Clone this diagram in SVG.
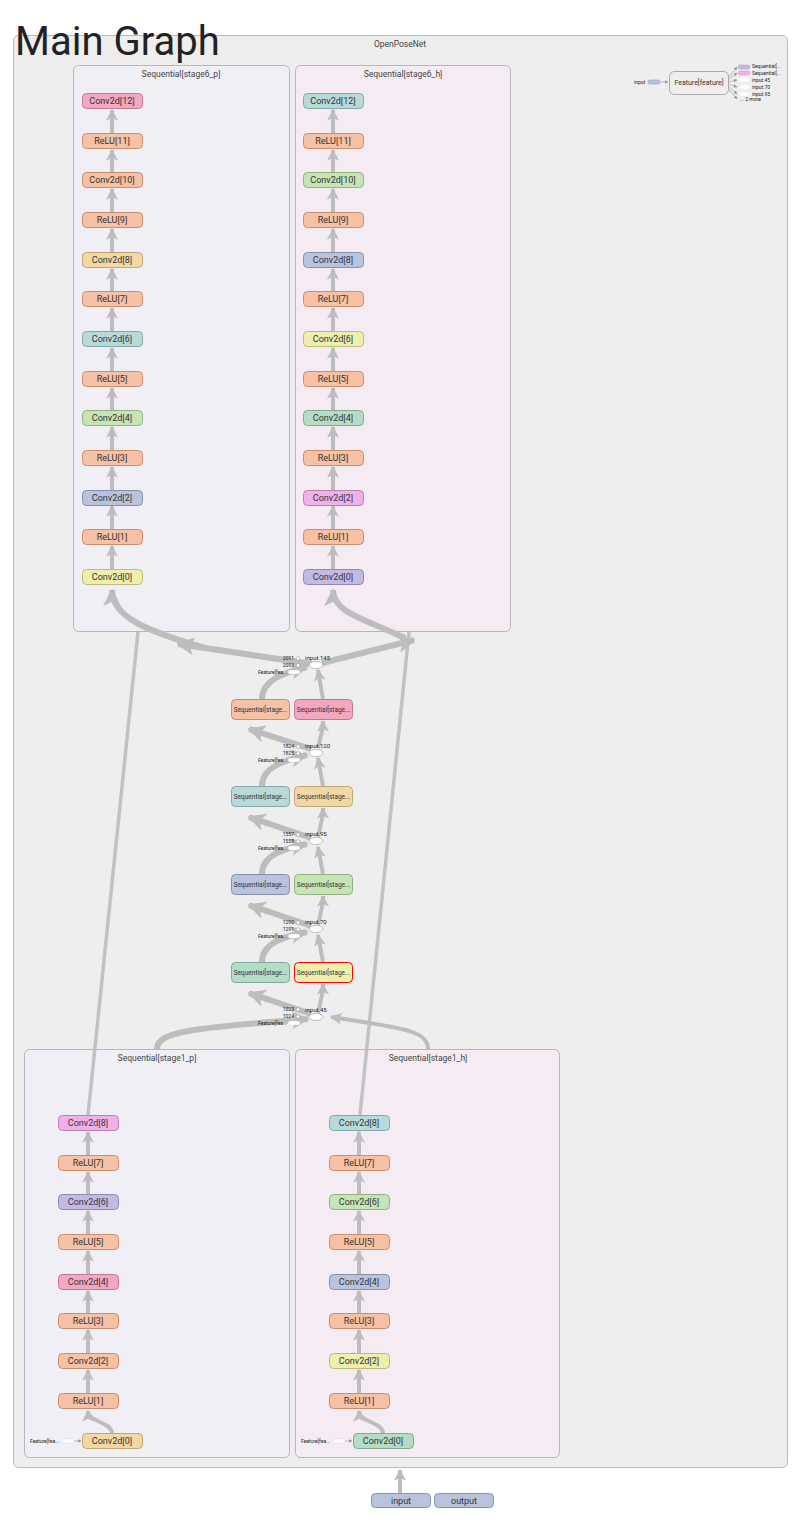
<svg xmlns="http://www.w3.org/2000/svg" width="811" height="1534" viewBox="0 0 811 1534">
<style>
text{font-family:Roboto,"Liberation Sans",sans-serif;fill:#333}
.t{font-size:9px;text-anchor:middle}
.gt{font-size:8.5px;text-anchor:middle;fill:#444}
.s{font-size:6.5px;text-anchor:middle}
.xs{font-size:5px;fill:#222}
.n rect{stroke-width:1}
.e{fill:none;stroke:#bdbdbd;stroke-width:4;marker-end:url(#a)}
.ew{fill:none;stroke:#bdbdbd;stroke-width:6;marker-end:url(#a)}
.el{fill:none;stroke:#c2c2c2;stroke-width:3.5}
.pk{fill:#f4a7c0;stroke:#c27990}
.sa{fill:#f6c1a4;stroke:#c98f6f}
.tn{fill:#f2d8a5;stroke:#c3a672}
.tl{fill:#b9dada;stroke:#86a8a8}
.gr{fill:#c7e4b5;stroke:#93b281}
.bg{fill:#b9c3dd;stroke:#8591ad}
.ye{fill:#eeeead;stroke:#bbbb7b}
.gt2{fill:#b5dcc7;stroke:#83a995}
.mg{fill:#efb1e8;stroke:#bc80b5}
.pu{fill:#c4b9e3;stroke:#9388b3}
.sm{fill:#fff;stroke:#999;stroke-width:0.6}
</style>
<defs>
<marker id="a" viewBox="0 0 10 10" refX="9" refY="5" markerWidth="3" markerHeight="3" orient="auto" markerUnits="strokeWidth">
<path d="M0,0 L10,5 L0,10 L2.5,5 z" fill="#bdbdbd"/>
</marker>
<marker id="s" viewBox="0 0 10 10" refX="9" refY="5" markerWidth="6" markerHeight="6" orient="auto" markerUnits="strokeWidth">
<path d="M0,0 L10,5 L0,10 z" fill="#999"/>
</marker>
</defs>
<rect width="811" height="1534" fill="#fff"/>
<g id="main">
<rect x="13.5" y="35.5" width="774" height="1432" rx="5" fill="#eee" stroke="#bbb"/>
<text x="400" y="47" class="gt">OpenPoseNet</text>
</g>
<text x="15" y="55" font-size="40" style="fill:#222">Main Graph</text>

<g id="stage6_p">
<rect x="73.5" y="65.5" width="216" height="566" rx="5" fill="#f0eff5" stroke="#b8b4bb"/>
<text x="181" y="77" class="gt">Sequential[stage6_p]</text>
</g>
<g id="stage6_h">
<rect x="295.5" y="65.5" width="215" height="566" rx="5" fill="#f5ecf3" stroke="#b8b4bb"/>
<text x="403" y="77" class="gt">Sequential[stage6_h]</text>
</g>
<g id="stage1_p">
<rect x="24.5" y="1049.5" width="265" height="408" rx="5" fill="#f0eff5" stroke="#b8b4bb"/>
<text x="157" y="1061" class="gt">Sequential[stage1_p]</text>
</g>
<g id="stage1_h">
<rect x="295.5" y="1049.5" width="264" height="408" rx="5" fill="#f5ecf3" stroke="#b8b4bb"/>
<text x="428" y="1061" class="gt">Sequential[stage1_h]</text>
</g>

<g id="connectors">
<!-- stage6_p chain -->
<path class="e" d="M112,569.5V546"/><path class="e" d="M112,529.5V506"/><path class="e" d="M112,490.5V467"/><path class="e" d="M112,450.5V427"/><path class="e" d="M112,410.5V388"/><path class="e" d="M112,371.5V348"/><path class="e" d="M112,331.5V308"/><path class="e" d="M112,291.5V269"/><path class="e" d="M112,252.5V229"/><path class="e" d="M112,212.5V189"/><path class="e" d="M112,172.5V150"/><path class="e" d="M112,133.5V110"/>
<!-- stage6_h chain -->
<path class="e" d="M333,569.5V546"/><path class="e" d="M333,529.5V506"/><path class="e" d="M333,490.5V467"/><path class="e" d="M333,450.5V427"/><path class="e" d="M333,410.5V388"/><path class="e" d="M333,371.5V348"/><path class="e" d="M333,331.5V308"/><path class="e" d="M333,291.5V269"/><path class="e" d="M333,252.5V229"/><path class="e" d="M333,212.5V189"/><path class="e" d="M333,172.5V150"/><path class="e" d="M333,133.5V110"/>
<!-- stage1_p chain -->
<path class="e" d="M112,1433.5C112,1422 88,1422 88,1411"/>
<path class="e" d="M88,1393.5V1370"/><path class="e" d="M88,1353.5V1330"/><path class="e" d="M88,1313.5V1291"/><path class="e" d="M88,1274.5V1251"/><path class="e" d="M88,1234.5V1211"/><path class="e" d="M88,1194.5V1172"/><path class="e" d="M88,1155.5V1132"/>
<!-- stage1_h chain -->
<path class="e" d="M383,1433.5C383,1422 359,1422 359,1411"/>
<path class="e" d="M359,1393.5V1370"/><path class="e" d="M359,1353.5V1330"/><path class="e" d="M359,1313.5V1291"/><path class="e" d="M359,1274.5V1251"/><path class="e" d="M359,1234.5V1211"/><path class="e" d="M359,1194.5V1172"/><path class="e" d="M359,1155.5V1132"/>
<!-- long lines -->
<path class="el" d="M138,632 L88,1115"/>
<path class="el" d="M409,632 L360,1115"/>
<!-- input.145 to stage6 -->
<path class="ew" d="M312,664 L178,644"/>
<path class="ew" d="M205,648 C150,632 112,618 112,590"/>
<path class="ew" d="M322,663 L414,640"/>
<path class="ew" d="M405,638 C362,618 333,612 333,590"/>
<!-- center levels -->
<path class="ew" d="M262,699 C262,680 285,672 307,667"/>
<path class="e" d="M323,699 L318,670"/>
<path class="ew" d="M311,749 L249,729"/>
<path class="e" d="M318,748 C320,738 323,732 323,721"/>
<path class="ew" d="M262,786 C262,767 285,760 307,755"/>
<path class="e" d="M323,786 L318,758"/>
<path class="ew" d="M311,838 L249,817"/>
<path class="e" d="M318,837 C320,827 323,820 323,808"/>
<path class="ew" d="M262,874 C262,855 285,848 307,844"/>
<path class="e" d="M323,874 L318,847"/>
<path class="ew" d="M311,926 L249,905"/>
<path class="e" d="M318,925 C320,915 323,908 323,896"/>
<path class="ew" d="M262,962 C262,943 285,936 307,932"/>
<path class="e" d="M323,962 L318,935"/>
<path class="ew" d="M311,1014 L249,993"/>
<path class="e" d="M318,1013 C320,1003 323,996 323,984"/>
<!-- stage1 to input.45 -->
<path class="ew" d="M157,1049 C157,1032 190,1028 308,1019"/>
<path class="e" d="M428,1049 C428,1030 400,1028 331,1017"/>
<!-- input to main -->
<path class="e" d="M400,1493 V1470"/>
<!-- feature arrows in stage1 -->
<path d="M74,1441 H81" stroke="#999" stroke-width="0.6" marker-end="url(#s)"/>
<path d="M345,1441 H352" stroke="#999" stroke-width="0.6" marker-end="url(#s)"/>
<!-- top right -->
<path d="M660,82 H668" stroke="#999" stroke-width="0.6" marker-end="url(#s)"/>
<path d="M728,78 L737,67" stroke="#999" stroke-width="0.6" marker-end="url(#s)"/>
<path d="M728,80 L737,73" stroke="#999" stroke-width="0.6" marker-end="url(#s)"/>
<path d="M728,82 L737,80" stroke="#999" stroke-width="0.6" marker-end="url(#s)"/>
<path d="M728,84 L737,87" stroke="#999" stroke-width="0.6" marker-end="url(#s)"/>
<path d="M728,86 L737,94" stroke="#999" stroke-width="0.6" marker-end="url(#s)"/>
<path d="M728,88 L737,99" stroke="#999" stroke-width="0.6" marker-end="url(#s)"/>
</g>

<!-- stage6_p nodes -->
<g id="s6p_conv12" class="n"><rect class="pk" x="82.5" y="93.5" width="60" height="15" rx="4"/><text class="t" x="112" y="104">Conv2d[12]</text></g>
<g id="s6p_relu11" class="n"><rect class="sa" x="82.5" y="133.5" width="60" height="15" rx="4"/><text class="t" x="112" y="144">ReLU[11]</text></g>
<g id="s6p_conv10" class="n"><rect class="sa" x="82.5" y="172.5" width="60" height="15" rx="4"/><text class="t" x="112" y="183">Conv2d[10]</text></g>
<g id="s6p_relu9" class="n"><rect class="sa" x="82.5" y="212.5" width="60" height="15" rx="4"/><text class="t" x="112" y="223">ReLU[9]</text></g>
<g id="s6p_conv8" class="n"><rect class="tn" x="82.5" y="252.5" width="60" height="15" rx="4"/><text class="t" x="112" y="263">Conv2d[8]</text></g>
<g id="s6p_relu7" class="n"><rect class="sa" x="82.5" y="291.5" width="60" height="15" rx="4"/><text class="t" x="112" y="302">ReLU[7]</text></g>
<g id="s6p_conv6" class="n"><rect class="tl" x="82.5" y="331.5" width="60" height="15" rx="4"/><text class="t" x="112" y="342">Conv2d[6]</text></g>
<g id="s6p_relu5" class="n"><rect class="sa" x="82.5" y="371.5" width="60" height="15" rx="4"/><text class="t" x="112" y="382">ReLU[5]</text></g>
<g id="s6p_conv4" class="n"><rect class="gr" x="82.5" y="410.5" width="60" height="15" rx="4"/><text class="t" x="112" y="421">Conv2d[4]</text></g>
<g id="s6p_relu3" class="n"><rect class="sa" x="82.5" y="450.5" width="60" height="15" rx="4"/><text class="t" x="112" y="461">ReLU[3]</text></g>
<g id="s6p_conv2" class="n"><rect class="bg" x="82.5" y="490.5" width="60" height="15" rx="4"/><text class="t" x="112" y="501">Conv2d[2]</text></g>
<g id="s6p_relu1" class="n"><rect class="sa" x="82.5" y="529.5" width="60" height="15" rx="4"/><text class="t" x="112" y="540">ReLU[1]</text></g>
<g id="s6p_conv0" class="n"><rect class="ye" x="82.5" y="569.5" width="60" height="15" rx="4"/><text class="t" x="112" y="580">Conv2d[0]</text></g>

<!-- stage6_h nodes -->
<g id="s6h_conv12" class="n"><rect class="tl" x="303.5" y="93.5" width="60" height="15" rx="4"/><text class="t" x="333" y="104">Conv2d[12]</text></g>
<g id="s6h_relu11" class="n"><rect class="sa" x="303.5" y="133.5" width="60" height="15" rx="4"/><text class="t" x="333" y="144">ReLU[11]</text></g>
<g id="s6h_conv10" class="n"><rect class="gr" x="303.5" y="172.5" width="60" height="15" rx="4"/><text class="t" x="333" y="183">Conv2d[10]</text></g>
<g id="s6h_relu9" class="n"><rect class="sa" x="303.5" y="212.5" width="60" height="15" rx="4"/><text class="t" x="333" y="223">ReLU[9]</text></g>
<g id="s6h_conv8" class="n"><rect class="bg" x="303.5" y="252.5" width="60" height="15" rx="4"/><text class="t" x="333" y="263">Conv2d[8]</text></g>
<g id="s6h_relu7" class="n"><rect class="sa" x="303.5" y="291.5" width="60" height="15" rx="4"/><text class="t" x="333" y="302">ReLU[7]</text></g>
<g id="s6h_conv6" class="n"><rect class="ye" x="303.5" y="331.5" width="60" height="15" rx="4"/><text class="t" x="333" y="342">Conv2d[6]</text></g>
<g id="s6h_relu5" class="n"><rect class="sa" x="303.5" y="371.5" width="60" height="15" rx="4"/><text class="t" x="333" y="382">ReLU[5]</text></g>
<g id="s6h_conv4" class="n"><rect class="gt2" x="303.5" y="410.5" width="60" height="15" rx="4"/><text class="t" x="333" y="421">Conv2d[4]</text></g>
<g id="s6h_relu3" class="n"><rect class="sa" x="303.5" y="450.5" width="60" height="15" rx="4"/><text class="t" x="333" y="461">ReLU[3]</text></g>
<g id="s6h_conv2" class="n"><rect class="mg" x="303.5" y="490.5" width="60" height="15" rx="4"/><text class="t" x="333" y="501">Conv2d[2]</text></g>
<g id="s6h_relu1" class="n"><rect class="sa" x="303.5" y="529.5" width="60" height="15" rx="4"/><text class="t" x="333" y="540">ReLU[1]</text></g>
<g id="s6h_conv0" class="n"><rect class="pu" x="303.5" y="569.5" width="60" height="15" rx="4"/><text class="t" x="333" y="580">Conv2d[0]</text></g>

<!-- stage1_p nodes -->
<g id="s1p_conv8" class="n"><rect class="mg" x="58.5" y="1115.5" width="60" height="15" rx="4"/><text class="t" x="88" y="1126">Conv2d[8]</text></g>
<g id="s1p_relu7" class="n"><rect class="sa" x="58.5" y="1155.5" width="60" height="15" rx="4"/><text class="t" x="88" y="1166">ReLU[7]</text></g>
<g id="s1p_conv6" class="n"><rect class="pu" x="58.5" y="1194.5" width="60" height="15" rx="4"/><text class="t" x="88" y="1205">Conv2d[6]</text></g>
<g id="s1p_relu5" class="n"><rect class="sa" x="58.5" y="1234.5" width="60" height="15" rx="4"/><text class="t" x="88" y="1245">ReLU[5]</text></g>
<g id="s1p_conv4" class="n"><rect class="pk" x="58.5" y="1274.5" width="60" height="15" rx="4"/><text class="t" x="88" y="1285">Conv2d[4]</text></g>
<g id="s1p_relu3" class="n"><rect class="sa" x="58.5" y="1313.5" width="60" height="15" rx="4"/><text class="t" x="88" y="1324">ReLU[3]</text></g>
<g id="s1p_conv2" class="n"><rect class="sa" x="58.5" y="1353.5" width="60" height="15" rx="4"/><text class="t" x="88" y="1364">Conv2d[2]</text></g>
<g id="s1p_relu1" class="n"><rect class="sa" x="58.5" y="1393.5" width="60" height="15" rx="4"/><text class="t" x="88" y="1404">ReLU[1]</text></g>
<g id="s1p_conv0" class="n"><rect class="tn" x="82.5" y="1433.5" width="60" height="15" rx="4"/><text class="t" x="112" y="1444">Conv2d[0]</text></g>
<g id="s1p_feat"><text class="xs" x="30" y="1443">Feature[fea...</text><rect x="62" y="1439" width="12" height="4" rx="2" fill="#fff" stroke="#bbb" stroke-width="0.5" stroke-dasharray="1,1"/></g>

<!-- stage1_h nodes -->
<g id="s1h_conv8" class="n"><rect class="tl" x="329.5" y="1115.5" width="60" height="15" rx="4"/><text class="t" x="359" y="1126">Conv2d[8]</text></g>
<g id="s1h_relu7" class="n"><rect class="sa" x="329.5" y="1155.5" width="60" height="15" rx="4"/><text class="t" x="359" y="1166">ReLU[7]</text></g>
<g id="s1h_conv6" class="n"><rect class="gr" x="329.5" y="1194.5" width="60" height="15" rx="4"/><text class="t" x="359" y="1205">Conv2d[6]</text></g>
<g id="s1h_relu5" class="n"><rect class="sa" x="329.5" y="1234.5" width="60" height="15" rx="4"/><text class="t" x="359" y="1245">ReLU[5]</text></g>
<g id="s1h_conv4" class="n"><rect class="bg" x="329.5" y="1274.5" width="60" height="15" rx="4"/><text class="t" x="359" y="1285">Conv2d[4]</text></g>
<g id="s1h_relu3" class="n"><rect class="sa" x="329.5" y="1313.5" width="60" height="15" rx="4"/><text class="t" x="359" y="1324">ReLU[3]</text></g>
<g id="s1h_conv2" class="n"><rect class="ye" x="329.5" y="1353.5" width="60" height="15" rx="4"/><text class="t" x="359" y="1364">Conv2d[2]</text></g>
<g id="s1h_relu1" class="n"><rect class="sa" x="329.5" y="1393.5" width="60" height="15" rx="4"/><text class="t" x="359" y="1404">ReLU[1]</text></g>
<g id="s1h_conv0" class="n"><rect class="gt2" x="353.5" y="1433.5" width="60" height="15" rx="4"/><text class="t" x="383" y="1444">Conv2d[0]</text></g>
<g id="s1h_feat"><text class="xs" x="301" y="1443">Feature[fea...</text><rect x="333" y="1439" width="12" height="4" rx="2" fill="#fff" stroke="#bbb" stroke-width="0.5" stroke-dasharray="1,1"/></g>

<!-- center sequential nodes -->
<g id="c709l" class="n"><rect class="sa" x="231.5" y="699.5" width="58" height="20" rx="4"/><text class="s" x="260.5" y="712">Sequential[stage...</text></g>
<g id="c709r" class="n"><rect class="pk" x="294.5" y="699.5" width="58" height="20" rx="4"/><text class="s" x="323.5" y="712">Sequential[stage...</text></g>
<g id="c796l" class="n"><rect class="tl" x="231.5" y="786.5" width="58" height="20" rx="4"/><text class="s" x="260.5" y="799">Sequential[stage...</text></g>
<g id="c796r" class="n"><rect class="tn" x="294.5" y="786.5" width="58" height="20" rx="4"/><text class="s" x="323.5" y="799">Sequential[stage...</text></g>
<g id="c884l" class="n"><rect class="bg" x="231.5" y="874.5" width="58" height="20" rx="4"/><text class="s" x="260.5" y="887">Sequential[stage...</text></g>
<g id="c884r" class="n"><rect class="gr" x="294.5" y="874.5" width="58" height="20" rx="4"/><text class="s" x="323.5" y="887">Sequential[stage...</text></g>
<g id="c972l" class="n"><rect class="gt2" x="231.5" y="962.5" width="58" height="20" rx="4"/><text class="s" x="260.5" y="975">Sequential[stage...</text></g>
<g id="c972r" class="n"><rect x="294.5" y="962.5" width="58" height="20" rx="4" fill="#eeeead" stroke="#f00" stroke-width="2"/><text class="s" x="323.5" y="975">Sequential[stage...</text></g>

<!-- concat ellipses -->
<g id="input145"><ellipse cx="316" cy="665" rx="7" ry="3.5" class="sm"/><text class="xs" x="305" y="660" style="font-size:6px">input.145</text>
<circle cx="298" cy="658.5" r="1.8" class="sm"/><text class="xs" x="294" y="660" text-anchor="end">2091</text>
<circle cx="298" cy="665.5" r="1.8" class="sm"/><text class="xs" x="294" y="667" text-anchor="end">2092</text>
<rect x="288" y="670" width="12" height="4" rx="2" fill="#fff" stroke="#bbb" stroke-width="0.5" stroke-dasharray="1,1"/><text class="xs" x="287" y="674" text-anchor="end">Feature[fea...</text></g>
<g id="input120"><ellipse cx="316" cy="753" rx="7" ry="3.5" class="sm"/><text class="xs" x="305" y="748" style="font-size:6px">input.120</text>
<circle cx="298" cy="746.5" r="1.8" class="sm"/><text class="xs" x="294" y="748" text-anchor="end">1824</text>
<circle cx="298" cy="753.5" r="1.8" class="sm"/><text class="xs" x="294" y="755" text-anchor="end">1825</text>
<rect x="288" y="758" width="12" height="4" rx="2" fill="#fff" stroke="#bbb" stroke-width="0.5" stroke-dasharray="1,1"/><text class="xs" x="287" y="762" text-anchor="end">Feature[fea...</text></g>
<g id="input95"><ellipse cx="316" cy="841" rx="7" ry="3.5" class="sm"/><text class="xs" x="305" y="836" style="font-size:6px">input.95</text>
<circle cx="298" cy="834.5" r="1.8" class="sm"/><text class="xs" x="294" y="836" text-anchor="end">1557</text>
<circle cx="298" cy="841.5" r="1.8" class="sm"/><text class="xs" x="294" y="843" text-anchor="end">1558</text>
<rect x="288" y="846" width="12" height="4" rx="2" fill="#fff" stroke="#bbb" stroke-width="0.5" stroke-dasharray="1,1"/><text class="xs" x="287" y="850" text-anchor="end">Feature[fea...</text></g>
<g id="input70"><ellipse cx="316" cy="929" rx="7" ry="3.5" class="sm"/><text class="xs" x="305" y="924" style="font-size:6px">input.70</text>
<circle cx="298" cy="922.5" r="1.8" class="sm"/><text class="xs" x="294" y="924" text-anchor="end">1290</text>
<circle cx="298" cy="929.5" r="1.8" class="sm"/><text class="xs" x="294" y="931" text-anchor="end">1291</text>
<rect x="288" y="934" width="12" height="4" rx="2" fill="#fff" stroke="#bbb" stroke-width="0.5" stroke-dasharray="1,1"/><text class="xs" x="287" y="938" text-anchor="end">Feature[fea...</text></g>
<g id="input45"><ellipse cx="316" cy="1017" rx="7" ry="3.5" class="sm"/><text class="xs" x="305" y="1012" style="font-size:6px">input.45</text>
<circle cx="298" cy="1009.5" r="1.8" class="sm"/><text class="xs" x="294" y="1011" text-anchor="end">1023</text>
<circle cx="298" cy="1016.5" r="1.8" class="sm"/><text class="xs" x="294" y="1018" text-anchor="end">1024</text>
<rect x="288" y="1021" width="12" height="4" rx="2" fill="#fff" stroke="#bbb" stroke-width="0.5" stroke-dasharray="1,1"/><text class="xs" x="287" y="1025" text-anchor="end">Feature[fea...</text></g>

<!-- top-right feature summary -->
<g id="feature">
<rect x="669.5" y="71.5" width="59" height="23" rx="5" fill="#eee" stroke="#aaa"/>
<text class="t" x="699" y="85" style="font-size:7px">Feature[feature]</text>
<text class="xs" x="634" y="84">input</text>
<rect x="648" y="80" width="12" height="4" rx="2" fill="#b9c3dd" stroke="#8591ad" stroke-width="0.5"/>
<rect x="738" y="65" width="12" height="4" rx="2" fill="#c4b9e3" stroke="#9388b3" stroke-width="0.5" stroke-dasharray="1,0.5"/><text class="xs" x="752" y="68">Sequential[...</text>
<rect x="738" y="71" width="12" height="4" rx="2" fill="#efb1e8" stroke="#bc80b5" stroke-width="0.5" stroke-dasharray="1,0.5"/><text class="xs" x="752" y="75">Sequential[...</text>
<ellipse cx="744" cy="80" rx="5" ry="2" fill="#fff"/><text class="xs" x="752" y="82">input.45</text>
<ellipse cx="744" cy="87" rx="5" ry="2" fill="#fff"/><text class="xs" x="752" y="89">input.70</text>
<ellipse cx="744" cy="94" rx="5" ry="2" fill="#fff"/><text class="xs" x="752" y="96">input.95</text>
<text class="xs" x="740" y="101">... 2 more</text>
</g>

<g id="input" class="n"><rect x="371.5" y="1493.5" width="59" height="14" rx="4" fill="#b9c3dd" stroke="#8591ad"/><text class="t" x="401" y="1503.5">input</text></g>
<g id="output" class="n"><rect x="434.5" y="1493.5" width="59" height="14" rx="4" fill="#b9c3dd" stroke="#8591ad"/><text class="t" x="464" y="1503.5">output</text></g>
</svg>
